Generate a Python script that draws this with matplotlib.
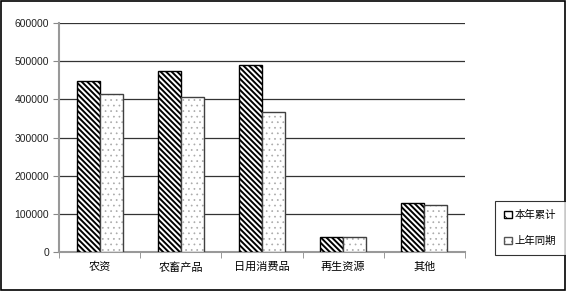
import numpy as np
import matplotlib.pyplot as plt
from matplotlib.patches import Patch

plt.rcParams['font.family'] = ['Noto Sans CJK SC', 'DejaVu Sans']
plt.rcParams['hatch.linewidth'] = 1.4

categories = ["农资", "农畜产品", "日用消费品", "再生资源", "其他"]
this_year = [448000, 474000, 490000, 38000, 128000]
last_year = [413000, 405000, 366000, 38000, 122000]
series_names = ["本年累计", "上年同期"]
yticks = [0, 100000, 200000, 300000, 400000, 500000, 600000]

fig = plt.figure(figsize=(5.66, 2.91), dpi=100)
ax = fig.add_axes([59 / 566, 39 / 291, 406 / 566, 229 / 291])

x = np.arange(len(categories))
w = 0.283

# 本年累计: 黑色斜线
ax.bar(x - w / 2, this_year, w, color="white", edgecolor="black",
       hatch="\\" * 6, linewidth=1.0, zorder=3)
# 上年同期: 灰色点状
plt.rcParams['hatch.linewidth'] = 0.5
ax.bar(x + w / 2, last_year, w, color="white", edgecolor="#aaaaaa",
       hatch="...", linewidth=0, zorder=3)
ax.bar(x + w / 2, last_year, w, color="none", edgecolor="#404040",
       linewidth=1.0, zorder=4)

ax.set_xlim(-0.5, len(categories) - 0.5)
ax.set_ylim(0, 600000)
ax.set_yticks(yticks)
ax.set_yticklabels([str(v) for v in yticks], fontsize=7.5, color="#222222",
                   family=['Liberation Sans'])
ax.yaxis.grid(True, color="#333333", linewidth=0.9, zorder=0)

ax.set_xticks(x)
ax.set_xticklabels(categories, fontsize=8)
ax.set_xticks(np.arange(len(categories) + 1) - 0.5, minor=True)
ax.tick_params(axis="x", which="major", length=0, pad=7)
ax.tick_params(axis="x", which="minor", length=4, color="#888888")
ax.tick_params(axis="y", length=4, color="#888888", pad=3)

for side in ["top", "right"]:
    ax.spines[side].set_visible(False)
ax.spines["left"].set_color("#999999")
ax.spines["left"].set_linewidth(1.5)
ax.spines["bottom"].set_color("#999999")
ax.spines["bottom"].set_linewidth(1.5)

handles = [Patch(facecolor="white", edgecolor="black", hatch="\\\\\\"),
           Patch(facecolor="white", edgecolor="#555555", hatch="..")]
leg = fig.legend(handles, series_names, loc="center left",
                 bbox_to_anchor=(495 / 566, (291 - 228) / 291),
                 fontsize=7.5, frameon=True, fancybox=False,
                 handlelength=0.7, handleheight=0.7, handletextpad=0.3,
                 labelspacing=1.5, borderpad=0.9, borderaxespad=0)
leg.get_frame().set_edgecolor("black")
leg.get_frame().set_linewidth(0.8)

fig.patches.append(plt.Rectangle((0.001, 0.002), 0.997, 0.995,
                                 transform=fig.transFigure, fill=False,
                                 edgecolor="black", linewidth=1.2))

fig.savefig("out.png", dpi=100)
